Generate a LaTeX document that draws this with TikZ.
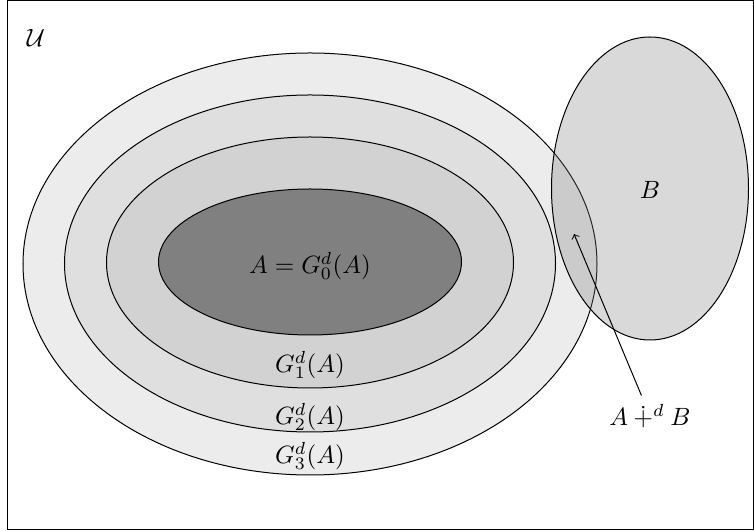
\documentclass[tikz,border=0pt]{standalone}
\usepackage{amssymb}
\usetikzlibrary{shapes.geometric}
\tikzset{
  ring/.style={
    ellipse,
    inner sep=0pt,
    draw=black
  },
  setb/.style={
    ellipse,
    inner sep=0pt,
    draw=black,
    fill=gray,
    fill opacity=0.3
  },
  frame/.style={draw=black},
  arrow/.style={->}
}

\begin{document}
\begin{tikzpicture}[x=0.4pt,y=-0.4pt]
    \useasboundingbox (0,0) rectangle (754,531);
    \draw[frame] (7.5,0.5) rectangle (753.5,529.5);
    % nested sets G_k
    \node (g3) [ring, fill=gray!15, minimum width=229.6pt, minimum height=168.8pt] at (310,264) {};
    \node (g2) [ring, fill=gray!25, minimum width=196.4pt, minimum height=134.8pt] at (310,263.5) {};
    \node (g1) [ring, fill=gray!35, minimum width=162.8pt, minimum height=100.4pt] at (310,262.5) {};
    \node (g0) [ring, fill=gray, minimum width=121.2pt, minimum height=58.4pt] at (310,262) {};
    \node (b) [setb, minimum width=78.8pt, minimum height=121.2pt] at (650,188.5) {};
    % labels
    \node (u) at (36,38) {$\mathcal{U}$};
    \node (a0) at (310,266) {$A = G_0^d(A)$};
    \node (a1) at (310,365) {$G_1^d(A)$};
    \node (a2) at (310,417) {$G_2^d(A)$};
    \node (a3) at (310,456) {$G_3^d(A)$};
    \node (bl) at (650,190) {$B$};
    \node (sum) at (650,416) {$A \dotplus^d B$};
    \coordinate (meet) at (574,234);
    \draw[arrow] (sum) -- (meet);
\end{tikzpicture}
\end{document}
